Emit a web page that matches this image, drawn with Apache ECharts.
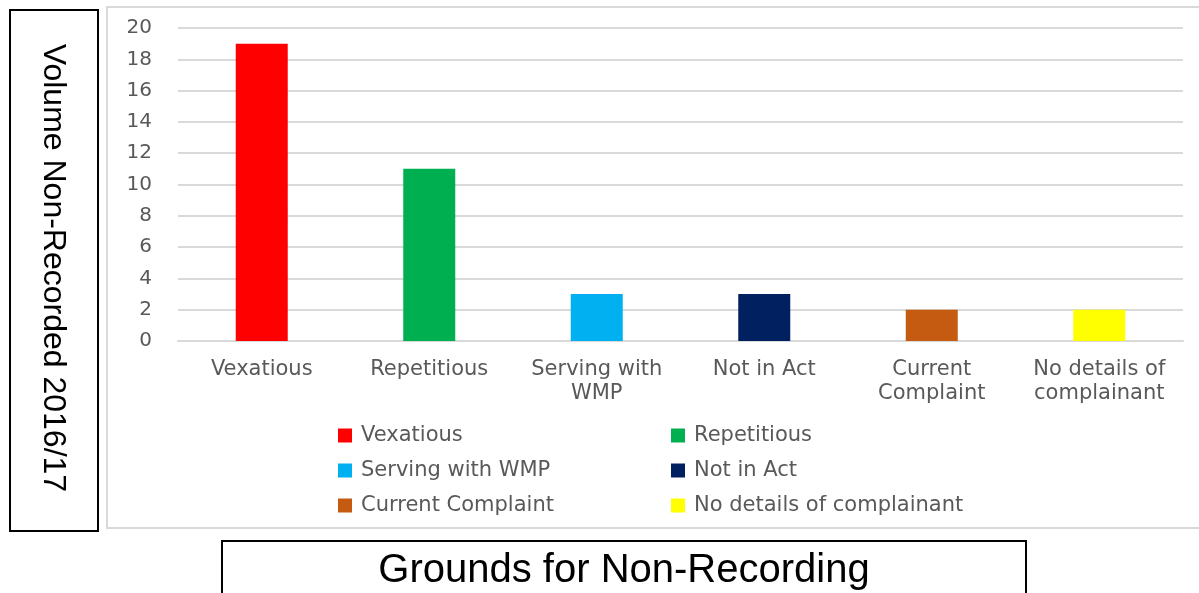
<!DOCTYPE html>
<html>
<head>
<meta charset="utf-8">
<title>Grounds for Non-Recording</title>
<script src="https://cdn.jsdelivr.net/npm/echarts@6/dist/echarts.min.js"></script>
<style>
  html, body { margin: 0; padding: 0; background: #ffffff; }
  #chart { width: 1199px; height: 593px; }
</style>
</head>
<body>
<div id="chart"></div>
<script>
// Grounds for non-recording and the number of cases for each, 2016/17
const categories = ['Vexatious', 'Repetitious', 'Serving with WMP', 'Not in Act', 'Current Complaint', 'No details of complainant'];
const axisLabels = ['Vexatious', 'Repetitious', 'Serving with\nWMP', 'Not in Act', 'Current\nComplaint', 'No details of\ncomplainant'];
const volumes = [19, 11, 3, 3, 2, 2];
const barColors = ['#FF0000', '#00B050', '#00B0F0', '#002060', '#C55A11', '#FFFF00'];
const yTitle = 'Volume Non-Recorded 2016/17';
const xTitle = 'Grounds for Non-Recording';

const labelFont = 'DejaVu Sans';
const textGrey = '#595959';

// One series per ground so each gets its own legend entry; stacking keeps
// every bar centred on its category.
const series = categories.map((name, i) => ({
  name: name,
  type: 'bar',
  stack: 'grounds',
  barWidth: 52,
  itemStyle: { color: barColors[i] },
  data: volumes.map((v, j) => (j === i ? v : '-'))
}));

const legendBase = {
  orient: 'vertical',
  top: 424,
  padding: 0,
  itemWidth: 14,
  itemHeight: 14,
  itemGap: 12,
  icon: 'rect',
  selectedMode: false,
  textStyle: { fontFamily: labelFont, fontSize: 21, color: textGrey, lineHeight: 23, padding: [0, 0, 0, 4] }
};

const option = {
  animation: false,
  backgroundColor: '#ffffff',
  grid: { left: 178, right: 16, top: 28, bottom: 252, containLabel: false },
  xAxis: {
    type: 'category',
    data: categories,
    axisLine: { show: true, lineStyle: { color: '#D9D9D9', width: 2 } },
    axisTick: { show: false },
    axisLabel: {
      interval: 0,
      margin: 17,
      fontFamily: labelFont,
      fontSize: 21,
      lineHeight: 24,
      color: textGrey,
      formatter: (val, idx) => axisLabels[idx]
    }
  },
  yAxis: {
    type: 'value',
    min: 0,
    max: 20,
    interval: 2,
    axisLine: { show: false },
    axisTick: { show: false },
    splitLine: { lineStyle: { color: '#D9D9D9', width: 2 } },
    axisLabel: { margin: 26, fontFamily: labelFont, fontSize: 20, color: textGrey }
  },
  legend: [
    Object.assign({}, legendBase, { left: 338, data: [categories[0], categories[2], categories[4]] }),
    Object.assign({}, legendBase, { left: 671, data: [categories[1], categories[3], categories[5]] })
  ],
  graphic: [
    // outer chart frame
    {
      type: 'rect', z: -10,
      shape: { x: 107, y: 7, width: 1110, height: 521 },
      style: { fill: null, stroke: '#D9D9D9', lineWidth: 2 }
    },
    // vertical title box
    {
      type: 'rect',
      shape: { x: 10, y: 10, width: 88, height: 521 },
      style: { fill: '#ffffff', stroke: '#000000', lineWidth: 2 }
    },
    {
      type: 'text',
      x: 53, y: 268,
      rotation: -Math.PI / 2,
      style: {
        text: yTitle,
        fontFamily: 'Liberation Sans',
        fontSize: 32,
        fill: '#000000',
        align: 'center',
        verticalAlign: 'middle'
      }
    },
    // horizontal title box
    {
      type: 'rect',
      shape: { x: 222, y: 541, width: 804, height: 70 },
      style: { fill: '#ffffff', stroke: '#000000', lineWidth: 2 }
    },
    {
      type: 'text',
      x: 624, y: 571,
      style: {
        text: xTitle,
        fontFamily: 'Liberation Sans',
        fontSize: 40,
        fill: '#000000',
        align: 'center',
        verticalAlign: 'middle'
      }
    }
  ],
  series: series
};

const chart = echarts.init(document.getElementById('chart'), null, { renderer: 'canvas' });
chart.setOption(option);
</script>
</body>
</html>
